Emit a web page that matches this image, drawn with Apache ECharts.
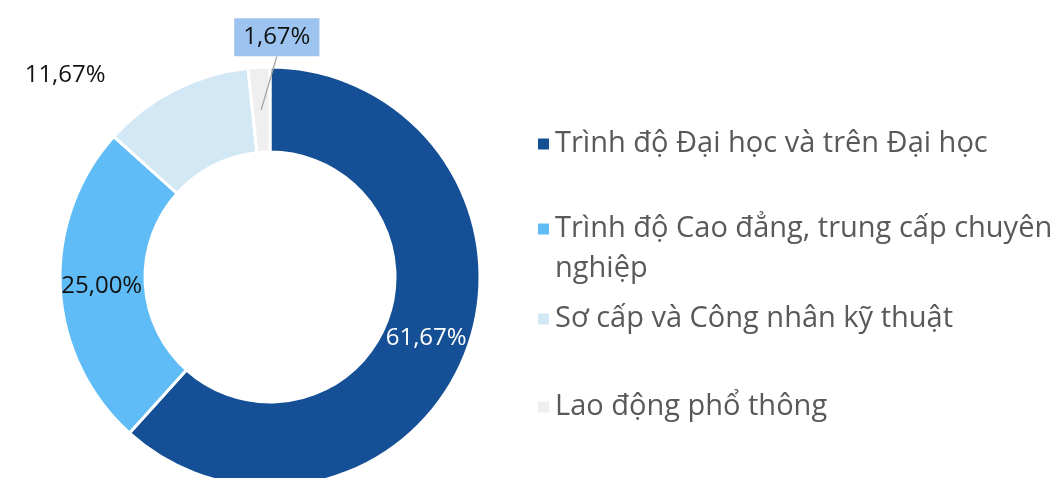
<!DOCTYPE html>
<html>
<head>
<meta charset="utf-8">
<script src="https://cdn.jsdelivr.net/npm/echarts@6/dist/echarts.min.js"></script>
<style>
  html, body { margin: 0; padding: 0; background: #fff; }
  #main { width: 1055px; height: 478px; }
</style>
</head>
<body>
<div id="main"></div>
<script>
// dữ liệu
var categories = ['Trình độ Đại học và trên Đại học', 'Trình độ Cao đẳng, trung cấp chuyên nghiệp', 'Sơ cấp và Công nhân kỹ thuật', 'Lao động phổ thông'];
// dòng trống đầu để biểu tượng thẳng hàng với dòng thứ nhất
var legendLabels = ['Trình độ Đại học và trên Đại học', '\nTrình độ Cao đẳng, trung cấp chuyên\nnghiệp', 'Sơ cấp và Công nhân kỹ thuật', 'Lao động phổ thông'];
var values = [61.67, 25.00, 11.67, 1.67];
var colors = ['#154f96', '#5fbcf6', '#d3e8f5', '#efefef'];

var FONT = '"Open Sans", "Noto Sans", sans-serif';
var center = [270, 277];
var radius = [125, 210];
var legendTops = [124, 169, 299, 387];

var myChart = echarts.init(document.getElementById('main'));

var total = values.reduce(function (a, b) { return a + b; }, 0);

function fmt(v) {
    return v.toFixed(2).replace('.', ',') + '%';
}

// góc giữa của mỗi lát (độ, theo chiều kim đồng hồ từ đỉnh)
function midAngle(i) {
    var before = 0;
    for (var k = 0; k < i; k++) before += values[k];
    return (before + values[i] / 2) / total * 360;
}

var legends = categories.map(function (name, i) {
    return {
        data: [name],
        orient: 'vertical',
        left: 536,
        top: legendTops[i],
        padding: 0,
        itemWidth: 13,
        itemHeight: 13,
        itemGap: 0,
        icon: 'rect',
        selectedMode: false,
        formatter: function () { return legendLabels[i]; },
        textStyle: { fontFamily: FONT, fontSize: 29, lineHeight: 40, color: '#595959' }
    };
});

var mainData = categories.map(function (name, i) {
    var item = { name: name, value: values[i], itemStyle: { color: colors[i] } };
    if (i === 0) {
        item.label = { position: 'inside', color: '#ffffff' };
    } else if (i === 1) {
        item.label = { position: 'inside', color: '#111111' };
    } else if (i === 2) {
        item.label = { position: 'outside', color: '#111111' };
        item.labelLine = { show: false, length: 0, length2: 0 };
    } else {
        item.label = { show: false };
        item.labelLine = { show: false };
    }
    return item;
});

// lớp phủ trong suốt chỉ để vẽ nhãn 1,67% và đường dẫn nằm trên lát cắt
var overlayData = categories.map(function (name, i) {
    var item = { name: name, value: values[i] };
    if (i === 3) {
        item.label = {
            show: true,
            position: 'outside',
            color: '#111111',
            backgroundColor: '#9dc3f0',
            padding: [7, 9, 7, 9]
        };
        item.labelLine = { show: true, length: 30, length2: 0, lineStyle: { color: '#a6a6a6', width: 1.3 } };
    } else {
        item.label = { show: false };
        item.labelLine = { show: false };
    }
    return item;
});

var labelBase = {
    show: true,
    fontFamily: FONT,
    fontSize: 24,
    formatter: function (p) { return fmt(p.value); }
};

myChart.setOption({
    animation: false,
    legend: legends,
    series: [
        {
            type: 'pie',
            center: center,
            radius: radius,
            startAngle: 90,
            clockwise: true,
            avoidLabelOverlap: false,
            itemStyle: { borderColor: '#ffffff', borderWidth: 3 },
            label: labelBase,
            labelLayout: function (p) {
                if (p.dataIndex === 2) {
                    return { dx: -64, dy: -15 };
                }
                if (p.dataIndex === 0) {
                    return { dx: -3 };
                }
                if (p.dataIndex === 1) {
                    return { dx: 2 };
                }
            },
            data: mainData
        },
        {
            type: 'pie',
            z: 5,
            silent: true,
            center: center,
            radius: radius,
            startAngle: 90,
            clockwise: true,
            avoidLabelOverlap: false,
            itemStyle: { color: 'rgba(0,0,0,0)', borderWidth: 0 },
            label: labelBase,
            labelLayout: function (p) {
                if (p.dataIndex === 3) {
                    var dx = 67, dy = 0;
                    var a = midAngle(3) * Math.PI / 180;
                    var rm = (radius[0] + radius[1]) / 2;
                    var r = p.labelRect;
                    return {
                        dx: dx,
                        dy: dy,
                        labelLinePoints: [
                            [center[0] + rm * Math.sin(a), center[1] - rm * Math.cos(a)],
                            [r.x + dx + r.width / 2, r.y + dy + r.height]
                        ]
                    };
                }
            },
            data: overlayData
        }
    ]
});
</script>
</body>
</html>
